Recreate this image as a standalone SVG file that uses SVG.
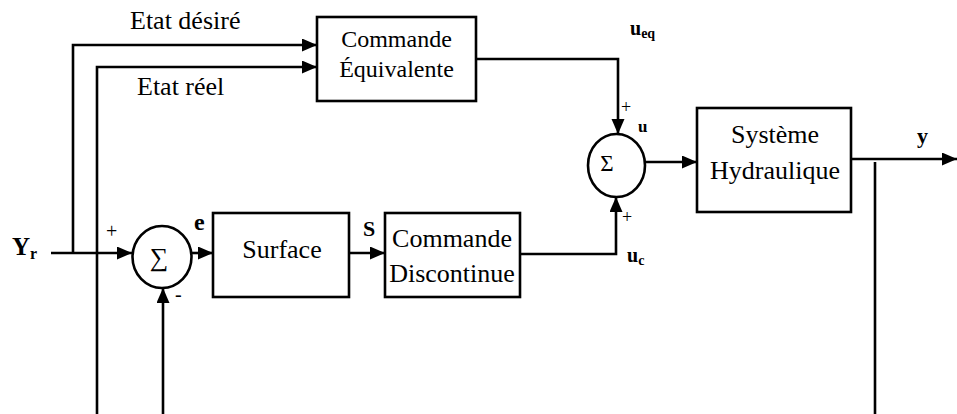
<svg xmlns="http://www.w3.org/2000/svg" width="957" height="414" viewBox="0 0 957 414">
<defs>
<marker id="ah" markerUnits="userSpaceOnUse" markerWidth="17" markerHeight="15" refX="15" refY="6.5" orient="auto">
<path d="M0,0 L15,6.5 L0,13 z" fill="#000"/>
</marker>
<style>
.box{fill:#fff;stroke:#000;stroke-width:2.6}
.ln{fill:none;stroke:#000;stroke-width:2.6}
.arr{marker-end:url(#ah)}
text{font-family:"Liberation Serif","Times New Roman",serif;fill:#000}
.t{font-size:26px}
.tc{font-size:26px;text-anchor:middle}
.b{font-weight:bold}
</style>
</defs>
<rect width="957" height="414" fill="#fff"/>

<g id="connectors">
<path class="ln arr" d="M73,253 V45 H317"/>
<path class="ln arr" d="M97,414 V67 H317"/>
<path class="ln arr" d="M51,253 H132"/>
<path class="ln arr" d="M163,414 V288"/>
<path class="ln arr" d="M191,253 H213"/>
<path class="ln arr" d="M349,253 H385"/>
<path class="ln arr" d="M520,254 H616 V197"/>
<path class="ln arr" d="M476,59 H618 V134"/>
<path class="ln arr" d="M645,162 H697"/>
<path class="ln arr" d="M851,159 H957"/>
<path class="ln" d="M875,162 V414"/>
</g>

<g id="labels">
<text class="t" x="130" y="29">Etat désiré</text>
<text class="t" x="137" y="95">Etat réel</text>
<text class="b" x="12" y="255" font-size="25">Y<tspan font-size="16" dy="4">r</tspan></text>
<text x="106" y="238" font-size="20">+</text>
<text x="175" y="301" font-size="20">-</text>
<text class="b" x="194" y="230" font-size="24">e</text>
<text class="b" x="363" y="236" font-size="22">S</text>
<text class="b" x="630" y="35" font-size="20">u<tspan font-size="14" dy="3">eq</tspan></text>
<text x="621" y="113" font-size="18">+</text>
<text class="b" x="638" y="132" font-size="17">u</text>
<text x="622" y="223" font-size="18">+</text>
<text class="b" x="627" y="262" font-size="20">u<tspan font-size="14" dy="3">c</tspan></text>
<text class="b" x="917" y="143" font-size="22">y</text>
</g>

<g id="cmd-eq">
<rect class="box" x="317" y="17" width="159" height="84"/>
<text x="396.5" y="47" font-size="24" text-anchor="middle">Commande</text>
<text x="396.5" y="77" font-size="24" text-anchor="middle">Équivalente</text>
</g>

<g id="sum1">
<ellipse class="box" cx="162" cy="257" rx="29.5" ry="31"/>
<text x="159" y="266" font-size="26" text-anchor="middle">∑</text>
</g>

<g id="surface">
<rect class="box" x="213" y="213" width="136" height="84"/>
<text class="tc" x="282" y="258">Surface</text>
</g>

<g id="cmd-disc">
<rect class="box" x="385" y="213" width="135" height="84"/>
<text class="tc" x="452" y="247">Commande</text>
<text class="tc" x="452" y="282">Discontinue</text>
</g>

<g id="sum2">
<ellipse class="box" cx="616.5" cy="165.5" rx="28.5" ry="31.5"/>
<text x="607" y="171" font-size="23" text-anchor="middle">Σ</text>
</g>

<g id="systeme">
<rect class="box" x="697" y="108" width="154" height="104"/>
<text class="tc" x="775" y="143">Système</text>
<text class="tc" x="775" y="179">Hydraulique</text>
</g>
</svg>
